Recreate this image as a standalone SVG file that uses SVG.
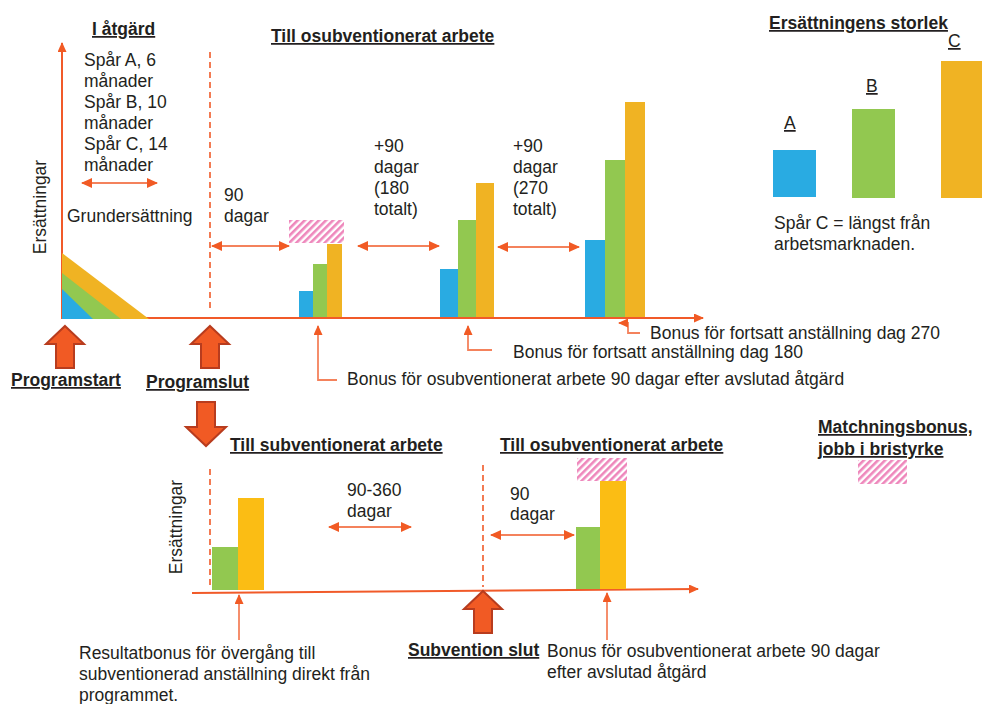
<svg xmlns="http://www.w3.org/2000/svg" width="982" height="704" viewBox="0 0 982 704">
<style>
text{font-family:"Liberation Sans",Arial,sans-serif;font-size:17.5px;fill:#231f20}
.b{font-weight:bold;text-decoration:underline}
.axis{stroke:#f15a29;stroke-width:2;fill:none}
.dash{stroke:#f15a29;stroke-width:1.6;stroke-dasharray:6,4;fill:none}
.dbl{stroke:#f4825c;stroke-width:2;fill:none;marker-start:url(#ah);marker-end:url(#ah)}
.con{stroke:#f4825c;stroke-width:1.8;fill:none;marker-end:url(#sh)}
.blk{fill:#f15a24;stroke:#b83c1e;stroke-width:2;stroke-linejoin:miter}
.bl{fill:#29abe2}.gr{fill:#92c850}.ye{fill:#f0b323}.ye2{fill:#fbbd14}
.ht{fill:url(#hatch)}
</style>
<defs>
<marker id="ah" markerUnits="userSpaceOnUse" markerWidth="11" markerHeight="10" refX="10" refY="5" orient="auto-start-reverse"><path d="M0,0 L11,5 L0,10 z" fill="#f15a24"/></marker>
<marker id="sh" markerUnits="userSpaceOnUse" markerWidth="10" markerHeight="9" refX="9" refY="4.5" orient="auto"><path d="M0,0 L10,4.5 L0,9 z" fill="#f15a24"/></marker>
<marker id="ax" markerUnits="userSpaceOnUse" markerWidth="10" markerHeight="9" refX="9" refY="4.5" orient="auto"><path d="M0,0 L10,4.5 L0,9 z" fill="#f15a24"/></marker>
<pattern id="hatch" patternUnits="userSpaceOnUse" width="5" height="5" patternTransform="rotate(45)"><rect width="5" height="5" fill="#fff"/><rect width="2.6" height="5" fill="#ee86bb"/></pattern>
</defs>

<g id="top-chart">
<path class="axis" d="M62,319 V43" marker-end="url(#ax)"/>
<path class="axis" d="M62,318 H703" marker-end="url(#ax)"/>
<polygon class="ye" points="62,253 149,319 62,319"/>
<polygon class="gr" points="62,273 121,319 62,319"/>
<polygon class="bl" points="62,289 93,319 62,319"/>
<line class="dash" x1="210" y1="52" x2="210" y2="312"/>
<text class="b" x="92" y="35">I åtgärd</text>
<text x="84" y="66">Spår A, 6</text>
<text x="84" y="87">månader</text>
<text x="84" y="108">Spår B, 10</text>
<text x="84" y="129">månader</text>
<text x="84" y="150">Spår C, 14</text>
<text x="84" y="171">månader</text>
<text x="67" y="222">Grundersättning</text>
<text transform="translate(46,207) rotate(-90)" text-anchor="middle">Ersättningar</text>
<text class="b" x="271" y="42">Till osubventionerat arbete</text>
<text x="224" y="201">90</text>
<text x="224" y="222">dagar</text>
<text x="374" y="152">+90</text>
<text x="374" y="173">dagar</text>
<text x="374" y="194">(180</text>
<text x="374" y="215">totalt)</text>
<text x="513" y="152">+90</text>
<text x="513" y="173">dagar</text>
<text x="513" y="194">(270</text>
<text x="513" y="215">totalt)</text>
</g>

<g id="bars-90">
<rect class="ht" x="289" y="220" width="55" height="23"/>
<rect class="bl" x="299" y="291" width="14" height="26"/>
<rect class="gr" x="313" y="264" width="14" height="53"/>
<rect class="ye" x="327" y="244" width="15" height="73"/>
</g>
<g id="bars-180">
<rect class="bl" x="440" y="269" width="18" height="48"/>
<rect class="gr" x="458" y="220" width="18" height="97"/>
<rect class="ye" x="476" y="183" width="18" height="134"/>
</g>
<g id="bars-270">
<rect class="bl" x="585" y="240" width="20" height="77"/>
<rect class="gr" x="605" y="160" width="20" height="157"/>
<rect class="ye" x="625" y="102" width="20" height="215"/>
</g>

<g id="programstart">
<polygon class="blk" points="65,326 84,344 74,344 74,368 56,368 56,344 46,344"/>
<text class="b" x="11" y="386">Programstart</text>
</g>
<g id="programslut">
<polygon class="blk" points="210,326 229,344 219,344 219,368 201,368 201,344 191,344"/>
<text class="b" x="146" y="388">Programslut</text>
<polygon class="blk" points="197,402 215,402 215,427 226,427 206,446 186,427 197,427"/>
</g>

<g id="bonus-labels">
<text x="650" y="339">Bonus för fortsatt anställning dag 270</text>
<text x="513" y="358">Bonus för fortsatt anställning dag 180</text>
<text x="347" y="385">Bonus för osubventionerat arbete 90 dagar efter avslutad åtgärd</text>
</g>

<g id="legend">
<text class="b" x="769" y="29">Ersättningens storlek</text>
<text x="784" y="129" style="text-decoration:underline">A</text>
<text x="866" y="92" style="text-decoration:underline">B</text>
<text x="948" y="47" style="text-decoration:underline">C</text>
<rect class="bl" x="773" y="150" width="43" height="47"/>
<rect class="gr" x="852" y="109" width="43" height="89"/>
<rect class="ye" x="941" y="61" width="41" height="137"/>
<text x="774" y="229">Spår C = längst från</text>
<text x="774" y="250">arbetsmarknaden.</text>
</g>

<g id="matchning">
<text class="b" x="818" y="433">Matchningsbonus,</text>
<text class="b" x="818" y="455">jobb i bristyrke</text>
<rect class="ht" x="858" y="460" width="49" height="24"/>
</g>

<g id="bottom-chart">
<path class="axis" d="M192,593 L698,589" marker-end="url(#ax)"/>
<line class="dash" x1="210" y1="469" x2="210" y2="588"/>
<line class="dash" x1="483" y1="465" x2="483" y2="587"/>
<text class="b" x="230" y="451">Till subventionerat arbete</text>
<text class="b" x="500" y="451">Till osubventionerat arbete</text>
<text transform="translate(182,527) rotate(-90)" text-anchor="middle">Ersättningar</text>
<text x="347" y="496">90-360</text>
<text x="347" y="517">dagar</text>
<text x="510" y="500">90</text>
<text x="510" y="520">dagar</text>
<text x="79" y="659">Resultatbonus för övergång till</text>
<text x="79" y="680">subventionerad anställning direkt från</text>
<text x="79" y="701">programmet.</text>
<text x="547" y="657">Bonus för osubventionerat arbete 90 dagar</text>
<text x="547" y="678">efter avslutad åtgärd</text>
</g>
<g id="bars-sub">
<rect class="gr" x="212" y="547" width="26" height="43"/>
<rect class="ye2" x="238" y="498" width="26" height="92"/>
</g>
<g id="bars-osub">
<rect class="ht" x="577" y="458" width="50" height="23"/>
<rect class="gr" x="576" y="527" width="24" height="62"/>
<rect class="ye2" x="600" y="481" width="26" height="108"/>
</g>
<g id="subvention-slut">
<polygon class="blk" points="483,591 502,609 492,609 492,633 474,633 474,609 464,609"/>
<text class="b" x="408" y="656">Subvention slut</text>
</g>

<g id="connectors">
<path class="dbl" d="M82,183 H157"/>
<path class="dbl" d="M212,246 H289"/>
<path class="dbl" d="M358,246 H439"/>
<path class="dbl" d="M498,247 H579"/>
<path class="dbl" d="M329,527 H411"/>
<path class="dbl" d="M491,535 H574"/>
<path class="con" d="M337,380 H318 V326"/>
<path class="con" d="M492,350 H468 V326"/>
<path class="con" d="M640,333 H628 V323 H619"/>
<path class="con" d="M239,640 V595"/>
<path class="con" d="M607,640 V593"/>
</g>
</svg>
